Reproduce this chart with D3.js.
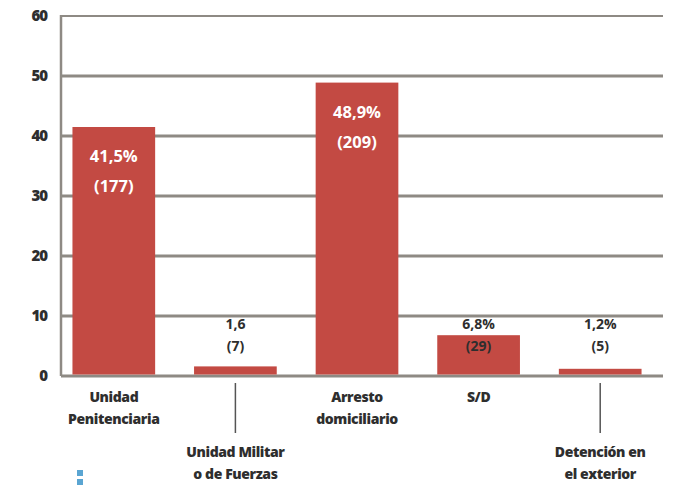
<!DOCTYPE html>
<html>
<head>
<meta charset="utf-8">
<script src="https://cdn.jsdelivr.net/npm/d3@7"></script>
<style>
  html, body { margin: 0; padding: 0; background: #fff; }
  svg { display: block; }
  text { font-family: "Open Sans", "Noto Sans", sans-serif; }
</style>
</head>
<body>
<svg id="chart" width="673" height="487"></svg>
<script>
// Situación de detención: porcentaje y cantidad de personas
const categories = [
  ["Unidad", "Penitenciaria"],
  ["Unidad Militar", "o de Fuerzas"],
  ["Arresto", "domiciliario"],
  ["S/D"],
  ["Detención en", "el exterior"]
];
const percents = [41.5, 1.6, 48.9, 6.8, 1.2];
const counts = [177, 7, 209, 29, 5];
const percentLabels = ["41,5%", "1,6", "48,9%", "6,8%", "1,2%"];
const yTicks = [0, 10, 20, 30, 40, 50, 60];
// categories whose label hangs below a leader line
const dropped = [false, true, false, false, true];

const svg = d3.select("#chart");
const plotLeft = 61, plotRight = 663, plotTop = 16, plotBottom = 376;

const x = d3.scaleBand()
  .domain(d3.range(categories.length))
  .range([53, plotRight - 2])
  .paddingInner(0.32)
  .paddingOuter(0.16);

const y = d3.scaleLinear().domain([0, 60]).range([plotBottom, plotTop]);

const barColor = "#c34a43";
const gridColor = "#8e8a84";
const textColor = "#2e2e2e";

// horizontal grid
svg.append("g")
  .selectAll("line")
  .data(yTicks)
  .join("line")
  .attr("x1", plotLeft).attr("x2", plotRight)
  .attr("y1", d => y(d)).attr("y2", d => y(d))
  .attr("stroke", gridColor)
  .attr("stroke-width", d => d === 60 ? 2 : 3);

// vertical axis line
svg.append("line")
  .attr("x1", plotLeft).attr("x2", plotLeft)
  .attr("y1", y(60) - 1).attr("y2", y(0))
  .attr("stroke", gridColor).attr("stroke-width", 2.5);

// y tick labels
const yAxis = d3.axisLeft(y).tickValues(yTicks).tickSize(0).tickPadding(14);
const gy = svg.append("g").attr("transform", `translate(${plotLeft},0)`).call(yAxis);
gy.select(".domain").remove();
gy.selectAll("text")
  .attr("fill", textColor)
  .attr("font-size", 15)
  .attr("font-weight", 800)
  .attr("letter-spacing", -1);

// bars
svg.append("g")
  .selectAll("rect")
  .data(percents)
  .join("rect")
  .attr("x", (d, i) => x(i))
  .attr("width", x.bandwidth())
  .attr("y", d => y(d))
  .attr("height", d => y(0) - y(d) - 1.5)
  .attr("fill", barColor);

// value labels
const vals = svg.append("g").selectAll("g")
  .data(percents)
  .join("g")
  .attr("transform", (d, i) => `translate(${x(i) + x.bandwidth() / 2},0)`);

vals.each(function (d, i) {
  const g = d3.select(this);
  const inside = d > 20;
  const y1 = inside ? y(d) + 35 : y(10) + 13;
  g.append("text")
    .attr("y", y1)
    .attr("text-anchor", "middle")
    .attr("font-size", inside ? 16.5 : 14)
    .attr("font-weight", 700)
    .attr("fill", inside ? "#fff" : textColor)
    .text(percentLabels[i]);
  g.append("text")
    .attr("y", y1 + (inside ? 30 : 22))
    .attr("text-anchor", "middle")
    .attr("font-size", inside ? 16.5 : 14)
    .attr("font-weight", 700)
    .attr("fill", inside ? "#fff" : textColor)
    .text(`(${counts[i]})`);
});

// category labels
const cats = svg.append("g").selectAll("g")
  .data(categories)
  .join("g")
  .attr("transform", (d, i) => `translate(${x(i) + x.bandwidth() / 2},0)`);

cats.each(function (lines, i) {
  const g = d3.select(this);
  const base = dropped[i] ? 457 : 402;
  if (dropped[i]) {
    g.append("line")
      .attr("x1", 0).attr("x2", 0)
      .attr("y1", 383).attr("y2", 433)
      .attr("stroke", "#555").attr("stroke-width", 1.5);
  }
  lines.forEach((t, k) => {
    g.append("text")
      .attr("y", base + k * 22)
      .attr("text-anchor", "middle")
      .attr("font-size", 14)
      .attr("font-weight", 800)
      .attr("letter-spacing", -0.4)
      .attr("fill", textColor)
      .text(t);
  });
});

// small blue marker in the lower left corner
svg.append("g")
  .selectAll("rect")
  .data([0, 1])
  .join("rect")
  .attr("x", 77).attr("y", d => 470 + d * 9)
  .attr("width", 6).attr("height", 6)
  .attr("fill", "#5aa5d2");
</script>
</body>
</html>
